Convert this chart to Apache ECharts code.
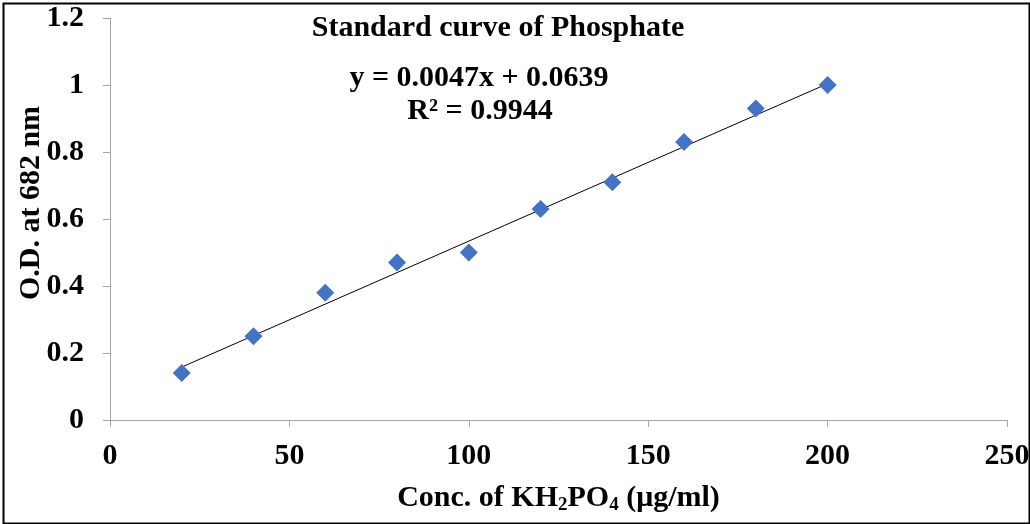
<!DOCTYPE html>
<html>
<head>
<meta charset="utf-8">
<script src="https://cdn.jsdelivr.net/npm/echarts@6/dist/echarts.min.js"></script>
<style>
html,body{margin:0;padding:0;background:#fff;}
#chart{width:1030px;height:524px;}
</style>
</head>
<body>
<div id="chart"></div>
<script>
// Data
const concentrations = [20, 40, 60, 80, 100, 120, 140, 160, 180, 200];
const odValues = [0.14, 0.25, 0.38, 0.47, 0.50, 0.63, 0.71, 0.83, 0.93, 1.00];
// Trendline end points (as drawn in the reference)
const trendX = [20, 200];
const trendY = [0.158, 1.004];
const titleText = 'Standard curve of Phosphate';
const equationText = 'y = 0.0047x + 0.0639';
const r2Text = 'R² = 0.9944';
const yAxisTitle = 'O.D. at 682 nm';

const FONT = '"Liberation Serif", "Times New Roman", serif';
const chart = echarts.init(document.getElementById('chart'));
const points = concentrations.map((x, i) => [x, odValues[i]]);
const trend = trendX.map((x, i) => [x, trendY[i]]);

chart.setOption({
  animation: false,
  backgroundColor: '#fff',
  title: [
    { text: titleText, left: 493, top: 8, textAlign: 'center',
      textStyle: { fontFamily: FONT, fontWeight: 'bold', fontSize: 30, color: '#000' } },
    { text: equationText, left: 474, top: 58, textAlign: 'center',
      textStyle: { fontFamily: FONT, fontWeight: 'bold', fontSize: 30, color: '#000' } },
    { text: r2Text, left: 475, top: 91, textAlign: 'center',
      textStyle: { fontFamily: FONT, fontWeight: 'bold', fontSize: 30, color: '#000' } }
  ],
  graphic: [
    {
      type: 'rect', left: 1, top: 1, silent: true,
      shape: { width: 1026, height: 520 },
      style: { fill: 'none', stroke: '#000', lineWidth: 2 }
    },
    {
      type: 'text', x: 31, y: 203, rotation: Math.PI / 2, silent: true,
      style: { text: yAxisTitle, fontFamily: FONT, fontWeight: 'bold', fontSize: 30, fill: '#000',
        align: 'center', verticalAlign: 'middle' }
    }
  ],
  grid: { left: 110, right: 23, top: 18, bottom: 104, outerBoundsMode: 'none', containLabel: false },
  xAxis: {
    type: 'value', min: 0, max: 250, interval: 50,
    name: 'Conc. of KH{s|2}PO{s|4} (μg/ml)',
    nameLocation: 'middle', nameGap: 62,
    nameTextStyle: {
      fontFamily: FONT, fontWeight: 'bold', fontSize: 30, color: '#000',
      rich: { s: { fontFamily: FONT, fontWeight: 'bold', fontSize: 19, color: '#000', verticalAlign: 'bottom', padding: [14, 0, 0, 0] } }
    },
    axisLine: { lineStyle: { color: '#a6a6a6', width: 1 } },
    axisTick: { show: true, length: 7, lineStyle: { color: '#a6a6a6' } },
    splitLine: { show: false },
    axisLabel: { fontFamily: FONT, fontWeight: 'bold', fontSize: 30, color: '#000', margin: 21 }
  },
  yAxis: {
    type: 'value', min: 0, max: 1.2, interval: 0.2,
    axisLine: { show: true, lineStyle: { color: '#a6a6a6', width: 1 } },
    axisTick: { show: true, length: 7, lineStyle: { color: '#a6a6a6' } },
    splitLine: { show: false },
    axisLabel: { fontFamily: FONT, fontWeight: 'bold', fontSize: 30, color: '#000', margin: 26,
      formatter: v => String(+v.toFixed(1)) }
  },
  series: [
    {
      type: 'line', data: trend, symbol: 'none',
      lineStyle: { color: '#000', width: 1 }, z: 2
    },
    {
      type: 'scatter', data: points, symbol: 'diamond', symbolSize: [18, 18],
      itemStyle: { color: '#4472C4', opacity: 1 }, z: 3
    }
  ]
});
</script>
</body>
</html>
